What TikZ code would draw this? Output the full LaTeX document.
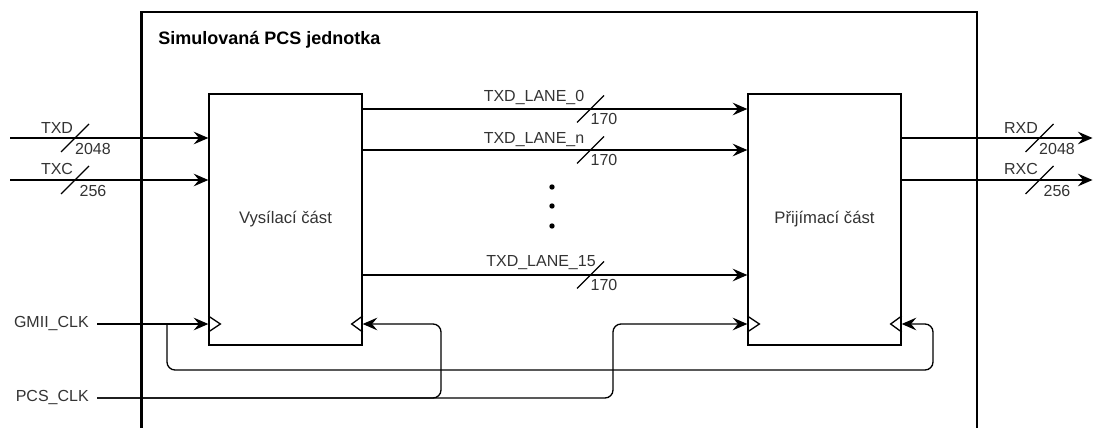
\documentclass[tikz,border=0pt]{standalone}
\usepackage{fontspec}
\setmainfont{Liberation Sans}
\usepackage{xcolor}
\usetikzlibrary{arrows.meta}

\begin{document}
\begin{tikzpicture}[x=0.75pt,y=-0.75pt,
  every node/.style={font=\fontsize{12}{14}\selectfont,text=black!80},
  blk/.style={draw,line width=1pt,minimum width=114.75pt,minimum height=188.25pt,inner sep=0pt,font=\fontsize{12.5}{15}\selectfont},
  sig/.style={line width=1pt},
  arr/.style={sig,-{Stealth[length=11pt,width=9.5pt,inset=4pt]}},
  lbl/.style={inner sep=0pt,anchor=base}]
  \clip (0,0) rectangle (1093,428);
  % outer unit, open at the bottom
  \draw[line width=1.7pt] (141.5,440) -- (141.5,12) -- (977,12) -- (977,440);
  \node[anchor=base west,inner sep=0pt,text=black,font=\fontsize{13.5}{16}\selectfont\bfseries] (title) at (158,45) {Simulovaná PCS jednotka};
  \node[blk] (tx) at (285.5,219.5) {Vysílací část};
  \node[blk] (rx) at (824.5,219.5) {Přijímací část};
  \node[anchor=east,inner xsep=6pt] (gmii) at (97,324) {GMII\_CLK};
  \node[anchor=east,inner xsep=6pt] (pcs) at (97,398) {PCS\_CLK};
  \coordinate (txd) at (10,138);
  \coordinate (txc) at (10,180);
  \coordinate (rxd) at (1092.5,138);
  \coordinate (rxc) at (1092.5,180);
  \coordinate (l0) at (0,109);
  \coordinate (ln) at (0,150);
  \coordinate (l15) at (0,275);
  \coordinate (split) at (167,324);
  % inputs
  \draw[arr] (txd) -- (tx.west |- txd);
  \draw[arr] (txc) -- (tx.west |- txc);
  \draw[sig] (75,138) +(-14,14) -- +(14,-14);
  \draw[sig] (75,180) +(-14,14) -- +(14,-14);
  \node[lbl] (txdname) at (57,133) {TXD};
  \node[lbl] (txdw) at (93,154) {2048};
  \node[lbl] (txcname) at (57,175) {TXC};
  \node[lbl] (txcw) at (93,196) {256};
  % lanes
  \draw[arr] (tx.east |- l0) -- (rx.west |- l0);
  \draw[arr] (tx.east |- ln) -- (rx.west |- ln);
  \draw[arr] (tx.east |- l15) -- (rx.west |- l15);
  \draw[sig] (590.5,109) +(-13.5,13.5) -- +(13.5,-13.5);
  \draw[sig] (590.5,150) +(-13.5,13.5) -- +(13.5,-13.5);
  \draw[sig] (590.5,275) +(-13.5,13.5) -- +(13.5,-13.5);
  \node[lbl] (l0name) at (534,102) {TXD\_LANE\_0};
  \node[lbl] (l0w) at (604,125) {170};
  \node[lbl] (lnname) at (534,143) {TXD\_LANE\_n};
  \node[lbl] (lnw) at (604,166) {170};
  \node[lbl] (l15name) at (541,266) {TXD\_LANE\_15};
  \node[lbl] (l15w) at (604,290) {170};
  \fill (552,187) circle (2.7);
  \fill (552,206) circle (2.7);
  \fill (552,226) circle (2.7);
  % outputs
  \draw[arr] (rx.east |- rxd) -- (rxd);
  \draw[arr] (rx.east |- rxc) -- (rxc);
  \draw[sig] (1039.5,138) +(-14,14) -- +(14,-14);
  \draw[sig] (1039.5,180) +(-14,14) -- +(14,-14);
  \node[lbl] (rxdname) at (1021,133) {RXD};
  \node[lbl] (rxdw) at (1057,154) {2048};
  \node[lbl] (rxcname) at (1021,175) {RXC};
  \node[lbl] (rxcw) at (1057,196) {256};
  % clocks
  \draw[arr] (gmii.east) -- (tx.west |- gmii);
  \draw[arr,rounded corners=6pt] (split) -- (167,370) -- (933,370) -- (933,324) -- (rx.east |- gmii);
  \draw[arr,rounded corners=6pt] (pcs.east) -- (441,398) -- (441,324) -- (tx.east |- gmii);
  \draw[arr,rounded corners=6pt] (pcs.east) -- (613,398) -- (613,324) -- (rx.west |- gmii);
  \draw[sig] (tx.west |- gmii) ++(0,-8) -- ++(12,8) -- ++(-12,8);
  \draw[sig] (tx.east |- gmii) ++(0,-8) -- ++(-11,8) -- ++(11,8);
  \draw[sig] (rx.west |- gmii) ++(0,-8) -- ++(12,8) -- ++(-12,8);
  \draw[sig] (rx.east |- gmii) ++(0,-8) -- ++(-11,8) -- ++(11,8);
\end{tikzpicture}
\end{document}
